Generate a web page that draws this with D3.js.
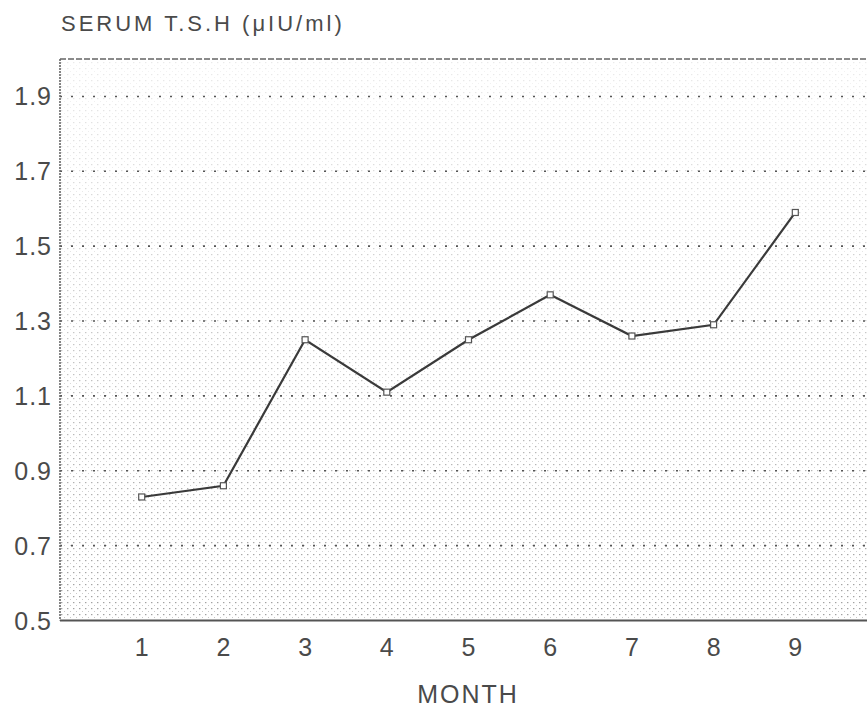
<!DOCTYPE html>
<html>
<head>
<meta charset="utf-8">
<script src="https://cdn.jsdelivr.net/npm/d3@7"></script>
<style>
  html, body { margin: 0; padding: 0; background: #fff; }
  svg { display: block; }
  text { font-family: "Liberation Sans", Arial, sans-serif; fill: #4a4a4a; }
</style>
</head>
<body>
<div id="chart"></div>
<script>
// Data
const months = [1, 2, 3, 4, 5, 6, 7, 8, 9];
const tshValues = [0.83, 0.86, 1.25, 1.11, 1.25, 1.37, 1.26, 1.29, 1.59];
const yTicks = [0.5, 0.7, 0.9, 1.1, 1.3, 1.5, 1.7, 1.9];
const xTicks = [1, 2, 3, 4, 5, 6, 7, 8, 9];
const yTitle = "SERUM T.S.H (\u03BCIU/ml)";
const xTitle = "MONTH";

(function () {
const W = 867, H = 711;
const pL = 60, pR = 877, pT = 59, pB = 620.5;

const svg = d3.select("#chart").append("svg").attr("width", W).attr("height", H);

const x = d3.scaleLinear().domain([0, 10]).range([pL, pR]);
const y = d3.scaleLinear().domain([0.5, 2.0]).range([pB, pT]);

// halftone-like texture
const defs = svg.append("defs");
const pat = defs.append("pattern").attr("id", "dots").attr("patternUnits", "userSpaceOnUse")
  .attr("width", 6).attr("height", 6);
pat.append("rect").attr("x", 1).attr("y", 2).attr("width", 1.4).attr("height", 1.2).attr("fill", "#9a9a9a");
pat.append("rect").attr("x", 4).attr("y", 5).attr("width", 1).attr("height", 1).attr("fill", "#c4c4c4");

const mask = defs.append("mask").attr("id", "fadeMask");
const grad2 = defs.append("linearGradient").attr("id", "maskGrad").attr("x1", 0).attr("y1", 0).attr("x2", 0).attr("y2", 1);
grad2.append("stop").attr("offset", "0%").attr("stop-color", "#fff").attr("stop-opacity", 0.2);
grad2.append("stop").attr("offset", "55%").attr("stop-color", "#fff").attr("stop-opacity", 0.6);
grad2.append("stop").attr("offset", "100%").attr("stop-color", "#fff").attr("stop-opacity", 0.95);
mask.append("rect").attr("x", pL).attr("y", pT).attr("width", pR - pL).attr("height", pB - pT).attr("fill", "url(#maskGrad)");

svg.append("rect").attr("x", pL).attr("y", pT).attr("width", pR - pL).attr("height", pB - pT)
  .attr("fill", "url(#dots)").attr("mask", "url(#fadeMask)");

// dotted gridlines
svg.append("g").selectAll("line").data(yTicks.filter(d => d > 0.5)).join("line")
  .attr("x1", pL).attr("x2", pR)
  .attr("y1", d => y(d)).attr("y2", d => y(d))
  .attr("stroke", "#555").attr("stroke-width", 1.6)
  .attr("stroke-dasharray", "2,9");

// frame
svg.append("line").attr("x1", pL).attr("x2", pR).attr("y1", pT).attr("y2", pT)
  .attr("stroke", "#666").attr("stroke-width", 1.5).attr("stroke-dasharray", "6,2");
svg.append("line").attr("x1", pL).attr("x2", pL).attr("y1", pT).attr("y2", pB)
  .attr("stroke", "#666").attr("stroke-width", 1.6).attr("stroke-dasharray", "2,1");
svg.append("line").attr("x1", pL).attr("x2", pR).attr("y1", pB).attr("y2", pB)
  .attr("stroke", "#555").attr("stroke-width", 1.8);

// y tick labels
svg.append("g").selectAll("text").data(yTicks).join("text")
  .attr("x", 52).attr("y", d => y(d))
  .attr("text-anchor", "end").attr("dominant-baseline", "central")
  .attr("font-size", 25).attr("letter-spacing", 1)
  .text(d => d.toFixed(1));

// x tick labels
svg.append("g").selectAll("text").data(xTicks).join("text")
  .attr("x", d => x(d)).attr("y", 656)
  .attr("text-anchor", "middle")
  .attr("font-size", 25)
  .text(d => d);

// titles
svg.append("text").attr("x", 61).attr("y", 31)
  .attr("font-size", 22).attr("letter-spacing", 3).text(yTitle);
svg.append("text").attr("x", 468).attr("y", 703).attr("text-anchor", "middle")
  .attr("font-size", 25).attr("letter-spacing", 2).text(xTitle);

// line
const data = months.map((m, i) => ({ m, v: tshValues[i] }));
svg.append("path").datum(data)
  .attr("fill", "none").attr("stroke", "#3a3a3a").attr("stroke-width", 2.2)
  .attr("d", d3.line().x(d => x(d.m)).y(d => y(d.v)));

svg.append("g").selectAll("rect").data(data).join("rect")
  .attr("x", d => x(d.m) - 3).attr("y", d => y(d.v) - 3)
  .attr("width", 6).attr("height", 6)
  .attr("fill", "#fff").attr("stroke", "#555").attr("stroke-width", 1.2);
})();
</script>
</body>
</html>
